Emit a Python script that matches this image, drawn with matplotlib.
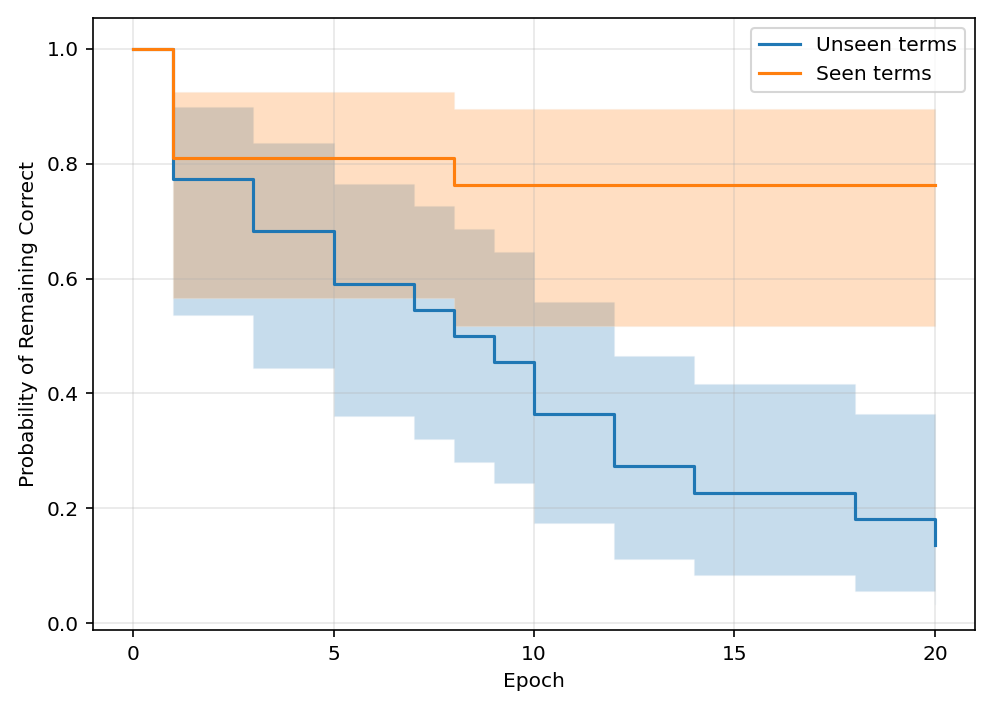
import matplotlib
matplotlib.use("Agg")
import matplotlib.pyplot as plt
import numpy as np

# Unseen terms (Kaplan-Meier estimate)
unseen_t = [0, 1, 3, 5, 7, 8, 9, 10, 12, 14, 18, 20]
unseen_s = [1.0, 0.773, 0.682, 0.591, 0.545, 0.500, 0.455, 0.364, 0.273, 0.227, 0.182, 0.136]
unseen_lo = [1.0, 0.537, 0.444, 0.361, 0.321, 0.281, 0.244, 0.174, 0.111, 0.084, 0.056, 0.034]
unseen_hi = [1.0, 0.899, 0.836, 0.765, 0.726, 0.686, 0.646, 0.559, 0.465, 0.416, 0.364, 0.31]

# Seen terms
seen_t = [0, 1, 8, 20]
seen_s = [1.0, 0.810, 0.762, 0.762]
seen_lo = [1.0, 0.566, 0.517, 0.517]
seen_hi = [1.0, 0.925, 0.895, 0.895]

plt.rcParams["font.size"] = 9.7

fig = plt.figure(figsize=(6.64, 4.7467), dpi=150)
ax = fig.add_axes([0.0934, 0.115, 0.8855, 0.860])

c_unseen = "#1f77b4"
c_seen = "#ff7f0e"

ax.fill_between(unseen_t, unseen_lo, unseen_hi, step="post", alpha=0.25, color=c_unseen, linewidth=0.6, edgecolor="#dbe8f3")
ax.step(unseen_t, unseen_s, where="post", color=c_unseen, lw=1.5, label="Unseen terms")
ax.fill_between(seen_t, seen_lo, seen_hi, step="post", alpha=0.25, color=c_seen, linewidth=0.6, edgecolor="#fbe6d3")
ax.step(seen_t, seen_s, where="post", color=c_seen, lw=1.5, label="Seen terms")

ax.set_xlim(-1, 21)
ax.set_ylim(-0.0122, 1.054)
ax.set_xticks([0, 5, 10, 15, 20])
ax.set_yticks([0.0, 0.2, 0.4, 0.6, 0.8, 1.0])
ax.grid(True, alpha=0.3)
ax.set_xlabel("Epoch")
ax.set_ylabel("Probability of Remaining Correct")
ax.legend(loc="upper right")

fig.savefig("out.png", dpi=150)
